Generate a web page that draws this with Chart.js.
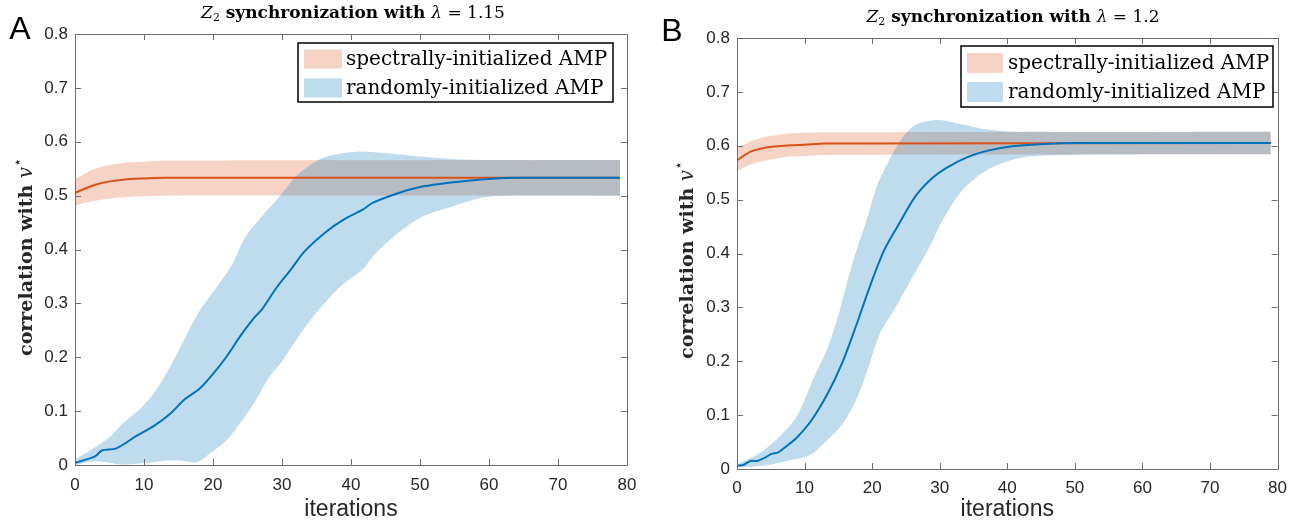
<!DOCTYPE html>
<html><head><meta charset="utf-8">
<script src="https://cdn.jsdelivr.net/npm/chart.js@4.4.0/dist/chart.umd.min.js"></script>
<style>
html,body{margin:0;padding:0;background:#fff;overflow:hidden}
#wrap{position:relative;width:1296px;height:523px;background:#fff}
canvas{position:absolute;left:0;top:0;width:1296px;height:523px}
</style></head><body>
<div id="wrap"><canvas id="cA" width="1296" height="523"></canvas><canvas id="cB" width="1296" height="523"></canvas></div>
<script>
// ---------- tick labels ----------
const xTickVals = [0, 10, 20, 30, 40, 50, 60, 70, 80];
const xTickLabels = ['0', '10', '20', '30', '40', '50', '60', '70', '80'];
const yTickVals = [0, 0.1, 0.2, 0.3, 0.4, 0.5, 0.6, 0.7, 0.8];
const yTickLabels = ['0', '0.1', '0.2', '0.3', '0.4', '0.5', '0.6', '0.7', '0.8'];
const legendLabels = ['spectrally-initialized AMP', 'randomly-initialized AMP'];

// ---------- Panel A (lambda = 1.15) ----------
const A_specIt    = [0, 2, 4, 6, 8, 10, 13, 79];
const A_specMean  = [0.505, 0.516, 0.524, 0.528, 0.531, 0.532, 0.533, 0.533];
const A_specUpper = [0.531, 0.545, 0.554, 0.559, 0.562, 0.563, 0.565, 0.566];
const A_specLower = [0.481, 0.488, 0.493, 0.496, 0.498, 0.499, 0.500, 0.500];

const A_randMeanIt = [0, 2.9, 3.9, 6, 8.9, 11.5, 13.8, 15.9, 18, 19.8, 21.9, 24, 26, 27.1, 29.2, 31.3, 33.3, 36.5, 39, 41.7, 43.2, 46.9, 50, 53.1, 57.3, 59.9, 64, 79];
const A_randMean   = [0.004, 0.016, 0.027, 0.031, 0.054, 0.073, 0.095, 0.122, 0.141, 0.166, 0.2, 0.24, 0.274, 0.289, 0.329, 0.363, 0.397, 0.434, 0.456, 0.474, 0.487, 0.505, 0.516, 0.522, 0.528, 0.531, 0.533, 0.533];
const A_randUpIt   = [0, 2.6, 5.2, 6.8, 8.3, 9.9, 12, 14.1, 16.1, 18.2, 20.8, 22.9, 24.5, 27.1, 29.7, 32.3, 35.4, 37.5, 41.1, 44.8, 49.5, 54.7, 59.9, 79];
const A_randUpper  = [0.01, 0.03, 0.054, 0.076, 0.092, 0.11, 0.144, 0.19, 0.24, 0.289, 0.335, 0.375, 0.419, 0.462, 0.499, 0.539, 0.567, 0.576, 0.582, 0.579, 0.573, 0.568, 0.566, 0.566];
const A_randLoIt   = [0, 3.1, 6.8, 10.4, 13, 15.6, 17.7, 19.8, 21.9, 24, 26, 28.1, 30.2, 32.8, 35.4, 38.5, 41.7, 43.2, 46.9, 50.5, 54.7, 58.9, 62.5, 79];
const A_randLower  = [0, 0.007, 0.001, 0.004, 0.008, 0.008, 0.005, 0.024, 0.045, 0.079, 0.116, 0.162, 0.196, 0.246, 0.289, 0.332, 0.363, 0.388, 0.431, 0.462, 0.48, 0.496, 0.5, 0.5];

// ---------- Panel B (lambda = 1.2) ----------
const B_specIt    = [0, 2, 4, 6, 8, 10, 13, 79];
const B_specMean  = [0.573, 0.589, 0.596, 0.599, 0.601, 0.602, 0.604, 0.605];
const B_specUpper = [0.596, 0.608, 0.616, 0.620, 0.623, 0.624, 0.625, 0.626];
const B_specLower = [0.552, 0.565, 0.572, 0.577, 0.580, 0.581, 0.583, 0.584];

const B_randMeanIt = [0, 1, 2, 3, 4, 5.1, 6.1, 7.4, 8.9, 11, 13.5, 15.6, 17.6, 19.7, 21.7, 23.8, 26.4, 28.9, 31, 34.1, 37.1, 40.7, 44.8, 51, 79];
const B_randMean   = [0.006, 0.008, 0.015, 0.015, 0.02, 0.028, 0.031, 0.043, 0.059, 0.09, 0.142, 0.198, 0.265, 0.34, 0.404, 0.451, 0.506, 0.54, 0.559, 0.579, 0.591, 0.599, 0.603, 0.605, 0.605];
const B_randUpIt   = [0, 2.8, 4.8, 6.9, 8.9, 11.5, 13.5, 15.1, 17.1, 19.2, 20.7, 22.3, 24.3, 26.4, 29.9, 33.5, 37.1, 41.7, 79];
const B_randUpper  = [0.009, 0.025, 0.043, 0.068, 0.099, 0.173, 0.228, 0.29, 0.383, 0.463, 0.525, 0.568, 0.611, 0.639, 0.648, 0.639, 0.63, 0.626, 0.626];
const B_randLoIt   = [0, 3.8, 7.4, 10.7, 13, 15.6, 17.6, 19.2, 21.2, 23.3, 25.8, 28.4, 30.5, 33, 35.6, 38.7, 42.8, 48.4, 79];
const B_randLower  = [0.003, 0.006, 0.015, 0.025, 0.049, 0.083, 0.127, 0.179, 0.253, 0.296, 0.352, 0.41, 0.463, 0.512, 0.543, 0.565, 0.579, 0.583, 0.584];

// ---------- styles ----------
const ORANGE = '#D95319', BLUE = '#0072BD';
const ORANGE_BAND = 'rgba(217,83,25,0.25)', BLUE_BAND = 'rgba(0,114,189,0.25)';
const AX = '#262626';
const SERIF = '"DejaVu Serif", "Liberation Serif", serif';
const SANS = '"Liberation Sans", Arial, sans-serif';

const pts = (xs, ys) => xs.map((x, i) => ({x: x, y: ys[i]}));

function drawRich(ctx, parts, cx, cy) {
  let total = 0;
  parts.forEach(p => { ctx.font = p.f; p.w = ctx.measureText(p.t).width; total += p.w; });
  let x = cx - total / 2;
  ctx.textAlign = 'left';
  ctx.textBaseline = 'middle';
  parts.forEach(p => { ctx.font = p.f; ctx.fillText(p.t, x, cy + (p.dy || 0)); x += p.w; });
}

function decorPlugin(g) {
  return {
    id: 'decor' + g.letter,
    afterDraw(chart) {
      const ctx = chart.ctx, a = chart.chartArea;
      const xs = chart.scales.x, ys = chart.scales.y;
      ctx.save();
      // box + inward ticks
      ctx.strokeStyle = '#6e6e6e';
      ctx.lineWidth = 1;
      ctx.beginPath();
      ctx.rect(Math.round(a.left) + 0.5, Math.round(a.top) + 0.5, Math.round(a.right - a.left), Math.round(a.bottom - a.top));
      xs.ticks.forEach(t => {
        const px = Math.round(xs.getPixelForValue(t.value)) + 0.5;
        ctx.moveTo(px, a.bottom); ctx.lineTo(px, a.bottom - 6);
        ctx.moveTo(px, a.top); ctx.lineTo(px, a.top + 6);
      });
      ys.ticks.forEach(t => {
        const py = Math.round(ys.getPixelForValue(t.value)) + 0.5;
        ctx.moveTo(a.left, py); ctx.lineTo(a.left + 6, py);
        ctx.moveTo(a.right, py); ctx.lineTo(a.right - 6, py);
      });
      ctx.stroke();

      // legend
      const L = g.legend;
      ctx.fillStyle = '#fff';
      ctx.fillRect(L.x, L.y, L.w, L.h);
      ctx.strokeStyle = '#000';
      ctx.lineWidth = 1.5;
      ctx.strokeRect(L.x, L.y, L.w, L.h);
      const sw = [ORANGE_BAND, BLUE_BAND];
      legendLabels.forEach((lab, i) => {
        const ry = L.rows[i];
        ctx.fillStyle = sw[i];
        ctx.fillRect(L.sx, ry - L.sh / 2, L.sw, L.sh);
        ctx.fillStyle = '#000';
        ctx.font = '20px ' + SERIF;
        ctx.textAlign = 'left';
        ctx.textBaseline = 'middle';
        ctx.fillText(lab, L.tx, ry + 1);
      });

      // title
      ctx.fillStyle = '#000';
      drawRich(ctx, [
        {t: 'Z', f: 'italic 17px ' + SERIF},
        {t: '2', f: '11px ' + SERIF, dy: 4},
        {t: ' synchronization with ', f: 'bold 17px ' + SERIF},
        {t: 'λ', f: 'italic 17px ' + SERIF},
        {t: ' = ' + g.lam, f: '17px ' + SERIF}
      ], g.titleX, g.titleY);

      // y-axis title
      ctx.save();
      ctx.translate(g.yTitleX, g.yTitleY);
      ctx.rotate(-Math.PI / 2);
      ctx.fillStyle = AX;
      drawRich(ctx, [
        {t: 'correlation with ', f: 'bold 19px ' + SERIF},
        {t: 'v', f: 'italic 20px ' + SERIF},
        {t: '⋆', f: '14px "DejaVu Sans", sans-serif', dy: -9}
      ], 0, 0);
      ctx.restore();

      // panel letter
      ctx.fillStyle = '#000';
      ctx.font = '32px ' + SANS;
      ctx.textAlign = 'center';
      ctx.textBaseline = 'middle';
      ctx.fillText(g.letter, g.letterX, g.letterY);
      ctx.restore();
    }
  };
}

function makeChart(id, d, g) {
  const datasets = [
    {data: pts(d.rmIt, d.rm), borderColor: BLUE, borderWidth: 2, pointRadius: 0, tension: 0.3, fill: false},
    {data: pts(d.sIt, d.sm), borderColor: ORANGE, borderWidth: 2, pointRadius: 0, tension: 0.3, fill: false},
    {data: pts(d.ruIt, d.ru), borderColor: 'transparent', borderWidth: 0, pointRadius: 0, tension: 0.3, fill: 3, backgroundColor: BLUE_BAND},
    {data: pts(d.rlIt, d.rl), borderColor: 'transparent', borderWidth: 0, pointRadius: 0, tension: 0.3, fill: false},
    {data: pts(d.sIt, d.su), borderColor: 'transparent', borderWidth: 0, pointRadius: 0, tension: 0.3, fill: 5, backgroundColor: ORANGE_BAND},
    {data: pts(d.sIt, d.sl), borderColor: 'transparent', borderWidth: 0, pointRadius: 0, tension: 0.3, fill: false}
  ];
  return new Chart(document.getElementById(id), {
    type: 'line',
    data: {datasets},
    options: {
      responsive: false, animation: false, devicePixelRatio: 1,
      layout: {padding: g.pad},
      plugins: {legend: {display: false}, tooltip: {enabled: false}, title: {display: false},
        filler: {propagate: false, drawTime: 'beforeDatasetsDraw'}},
      scales: {
        x: {
          type: 'linear', min: 0, max: 80,
          grid: {display: false, drawTicks: false, tickLength: 0}, border: {display: false},
          afterBuildTicks: s => { s.ticks = xTickVals.map(v => ({value: v})); },
          afterFit: s => { s.height = g.xh; },
          ticks: {color: AX, font: {family: SANS, size: 17}, padding: g.xtickPad, maxRotation: 0,
            callback: (v, i) => xTickLabels[i]},
          title: {display: true, text: 'iterations', color: AX, font: {family: SANS, size: 23}, padding: {top: 0, bottom: g.xtPad}}
        },
        y: {
          type: 'linear', min: 0, max: 0.8,
          grid: {display: false, drawTicks: false, tickLength: 0}, border: {display: false},
          afterBuildTicks: s => { s.ticks = yTickVals.map(v => ({value: v})); },
          afterFit: s => { s.width = g.yw; },
          ticks: {color: AX, font: {family: SANS, size: 17}, padding: 7,
            callback: (v, i) => yTickLabels[i]}
        }
      }
    },
    plugins: [decorPlugin(g)]
  });
}

makeChart('cA', {
  sIt: A_specIt, sm: A_specMean, su: A_specUpper, sl: A_specLower,
  rmIt: A_randMeanIt, rm: A_randMean, ruIt: A_randUpIt, ru: A_randUpper, rlIt: A_randLoIt, rl: A_randLower
}, {
  letter: 'A', letterX: 20, letterY: 30, lam: '1.15',
  pad: {left: 0, right: 669, top: 34, bottom: 0}, yw: 75, xh: 58, xtPad: 0, xtickPad: 10,
  titleX: 353, titleY: 14, yTitleX: 27, yTitleY: 257,
  legend: {x: 298, y: 43, w: 315, h: 59, sx: 304, sw: 38, sh: 19, tx: 346, rows: [59, 88]}
});

makeChart('cB', {
  sIt: B_specIt, sm: B_specMean, su: B_specUpper, sl: B_specLower,
  rmIt: B_randMeanIt, rm: B_randMean, ruIt: B_randUpIt, ru: B_randUpper, rlIt: B_randLoIt, rl: B_randLower
}, {
  letter: 'B', letterX: 672, letterY: 32, lam: '1.2',
  pad: {left: 650, right: 14, top: 38, bottom: 0}, yw: 87, xh: 54, xtPad: 0, xtickPad: 9,
  titleX: 1013, titleY: 18, yTitleX: 688, yTitleY: 260,
  legend: {x: 961, y: 46, w: 312, h: 61, sx: 967, sw: 36, sh: 20, tx: 1008, rows: [63, 92]}
});
</script>
</body></html>
